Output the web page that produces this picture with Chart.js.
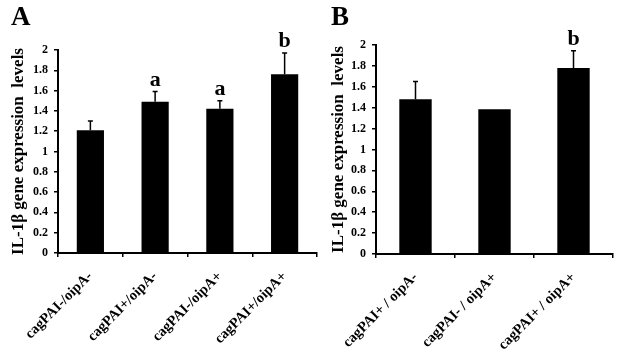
<!DOCTYPE html>
<html>
<head>
<meta charset="utf-8">
<script src="https://cdn.jsdelivr.net/npm/chart.js@4/dist/chart.umd.min.js"></script>
<style>
  html, body { margin: 0; padding: 0; background: #fff; }
  #wrap { position: relative; width: 623px; height: 353px; overflow: hidden; background: #fff; }
  canvas { position: absolute; top: 0; }
</style>
</head>
<body>
<div id="wrap">
  <canvas id="chartA" width="320" height="353" style="left:0px"></canvas>
  <canvas id="chartB" width="303" height="353" style="left:320px"></canvas>
</div>
<script>
// ---- Data ----
const categoriesA = ['cagPAI-/oipA-', 'cagPAI+/oipA-', 'cagPAI-/oipA+', 'cagPAI+/oipA+'];
const valuesA = [1.21, 1.49, 1.42, 1.76];
const errorsA = [0.09, 0.10, 0.08, 0.21];
const lettersA = ['', 'a', 'a', 'b'];

const categoriesB = ['cagPAI+ / oipA-', 'cagPAI- / oipA+', 'cagPAI+ / oipA+'];
const valuesB = [1.48, 1.385, 1.78];
const errorsB = [0.17, 0, 0.165];
const lettersB = ['', '', 'b'];

const yTickLabels = ['0', '0.2', '0.4', '0.6', '0.8', '1', '1.2', '1.4', '1.6', '1.8', '2'];
const yTitle = 'IL-1\u03b2 gene expression  levels';

const SERIF = '"Liberation Serif", "Times New Roman", serif';

const errorPlugin = {
  id: 'errorBarsAndLetters',
  afterDatasetsDraw(chart, args, opts) {
    const ctx = chart.ctx;
    const meta = chart.getDatasetMeta(0);
    const ys = chart.scales.y;
    const ds = chart.data.datasets[0];
    ctx.save();
    meta.data.forEach((bar, i) => {
      const v = ds.data[i];
      const e = opts.errors[i];
      const yTop = ys.getPixelForValue(v);
      let yEnd = yTop;
      if (e > 0) {
        yEnd = ys.getPixelForValue(v + e);
        ctx.strokeStyle = '#000';
        ctx.lineWidth = 1.5;
        ctx.beginPath();
        ctx.moveTo(bar.x, yTop);
        ctx.lineTo(bar.x, yEnd);
        ctx.moveTo(bar.x - 2.5, yEnd);
        ctx.lineTo(bar.x + 2.5, yEnd);
        ctx.stroke();
      }
      const L = opts.letters[i];
      if (L) {
        ctx.fillStyle = '#000';
        ctx.font = 'bold 22px ' + SERIF;
        ctx.textAlign = 'center';
        ctx.textBaseline = 'alphabetic';
        ctx.fillText(L, bar.x, yEnd - 6);
      }
    });
    // panel letter
    ctx.fillStyle = '#000';
    ctx.font = 'bold 27px ' + SERIF;
    ctx.textAlign = 'left';
    ctx.textBaseline = 'alphabetic';
    ctx.fillText(opts.panel, opts.panelX, opts.panelY);
    ctx.restore();
  }
};

function makeChart(id, cats, vals, errs, letters, cfg) {
  return new Chart(document.getElementById(id), {
    type: 'bar',
    data: {
      labels: cats,
      datasets: [{
        data: vals,
        backgroundColor: '#000',
        borderWidth: 0,
        barPercentage: cfg.barPct,
        categoryPercentage: 1.0
      }]
    },
    options: {
      responsive: false,
      animation: false,
      devicePixelRatio: 1,
      layout: { padding: cfg.padding },
      plugins: {
        legend: { display: false },
        tooltip: { enabled: false },
        errorBarsAndLetters: { errors: errs, letters: letters, panel: cfg.panel, panelX: cfg.panelX, panelY: cfg.panelY }
      },
      scales: {
        x: {
          offset: true,
          afterFit(scale) { scale.height = cfg.xHeight; },
          grid: { display: true, drawOnChartArea: false, drawTicks: true, tickLength: 4, color: '#000', lineWidth: 1.5, offset: true },
          border: { display: true, color: '#000', width: 2 },
          ticks: {
            color: '#000',
            autoSkip: false,
            minRotation: 45,
            maxRotation: 45,
            padding: 11,
            font: { family: SERIF, size: 14.5, weight: 'bold' }
          }
        },
        y: {
          min: 0,
          max: 2,
          afterFit(scale) { scale.width = cfg.yWidth; },
          grid: { display: true, drawOnChartArea: false, drawTicks: true, tickLength: 4, color: '#000', lineWidth: 1.5 },
          border: { display: true, color: '#000', width: 2 },
          ticks: {
            stepSize: 0.2,
            color: '#000',
            padding: 6,
            font: { family: SERIF, size: 12, weight: 'bold' },
            callback: (v, i) => yTickLabels[i]
          },
          title: {
            display: true,
            text: yTitle,
            color: '#000',
            padding: { top: 0, bottom: 0 },
            font: { family: SERIF, size: 17, weight: 'bold' }
          }
        }
      }
    },
    plugins: [errorPlugin]
  });
}

makeChart('chartA', categoriesA, valuesA, errorsA, lettersA, {
  barPct: 0.42,
  padding: { left: 8, right: 3, top: 50, bottom: 0 },
  xHeight: 100,
  yWidth: 50,
  panel: 'A', panelX: 11, panelY: 25
});

makeChart('chartB', categoriesB, valuesB, errorsB, lettersB, {
  barPct: 0.41,
  padding: { left: 8, right: 10, top: 45, bottom: 0 },
  xHeight: 99,
  yWidth: 48,
  panel: 'B', panelX: 11, panelY: 25
});
</script>
</body>
</html>
